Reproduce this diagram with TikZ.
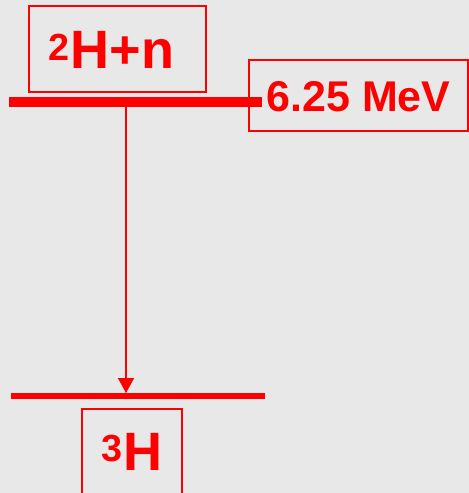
\documentclass[tikz,border=0pt]{standalone}
\usepackage{fontspec}
\setmainfont{Liberation Sans}
\usepackage{xcolor}
\usetikzlibrary{positioning, arrows.meta}
\definecolor{bggray}{HTML}{E8E8E8}

\begin{document}
\begin{tikzpicture}[
      x=1bp, y=-1bp,
      tag/.style={draw=red, line width=1.5bp, text=red, inner sep=0pt, anchor=base},
      big/.style={font=\bfseries\fontsize{54bp}{60bp}\selectfont},
      mid/.style={font=\bfseries\fontsize{43bp}{50bp}\selectfont},
      level/.style={draw=red, line cap=butt},
      arr/.style={draw=red, line width=1.5bp, -{Triangle[length=15bp, width=16bp]}}
    ]
    \fill[bggray] (0,0) rectangle (469,493);
    \clip (0,0) rectangle (469,493);

    % energy levels
    \coordinate (upL) at (9,102);
    \coordinate (upR) at (262,102);
    \coordinate (lowL) at (11,396);
    \coordinate (lowR) at (265,396);
    \coordinate (fall) at (126,107);
    \coordinate (land) at (126,393);

    \node[tag, big, text height=63bp, text depth=23bp, inner xsep=20bp, text width=137bp, align=left] (dn) at (117.5,69) {\textsuperscript{2}H+n};
    \node[tag, mid, text height=52bp, text depth=19bp, minimum width=219bp] (gap) at (358.5,112) {6.25 MeV};
    \node[tag, big, text height=61bp, text depth=40bp, minimum width=100bp] (tri) at (132,470) {\textsuperscript{3}H};

    \draw[level, line width=10bp] (upL) -- (upR);
    \draw[level, line width=6bp] (lowL) -- (lowR);
    \draw[arr] (fall) -- (land);
  \end{tikzpicture}
\end{document}
